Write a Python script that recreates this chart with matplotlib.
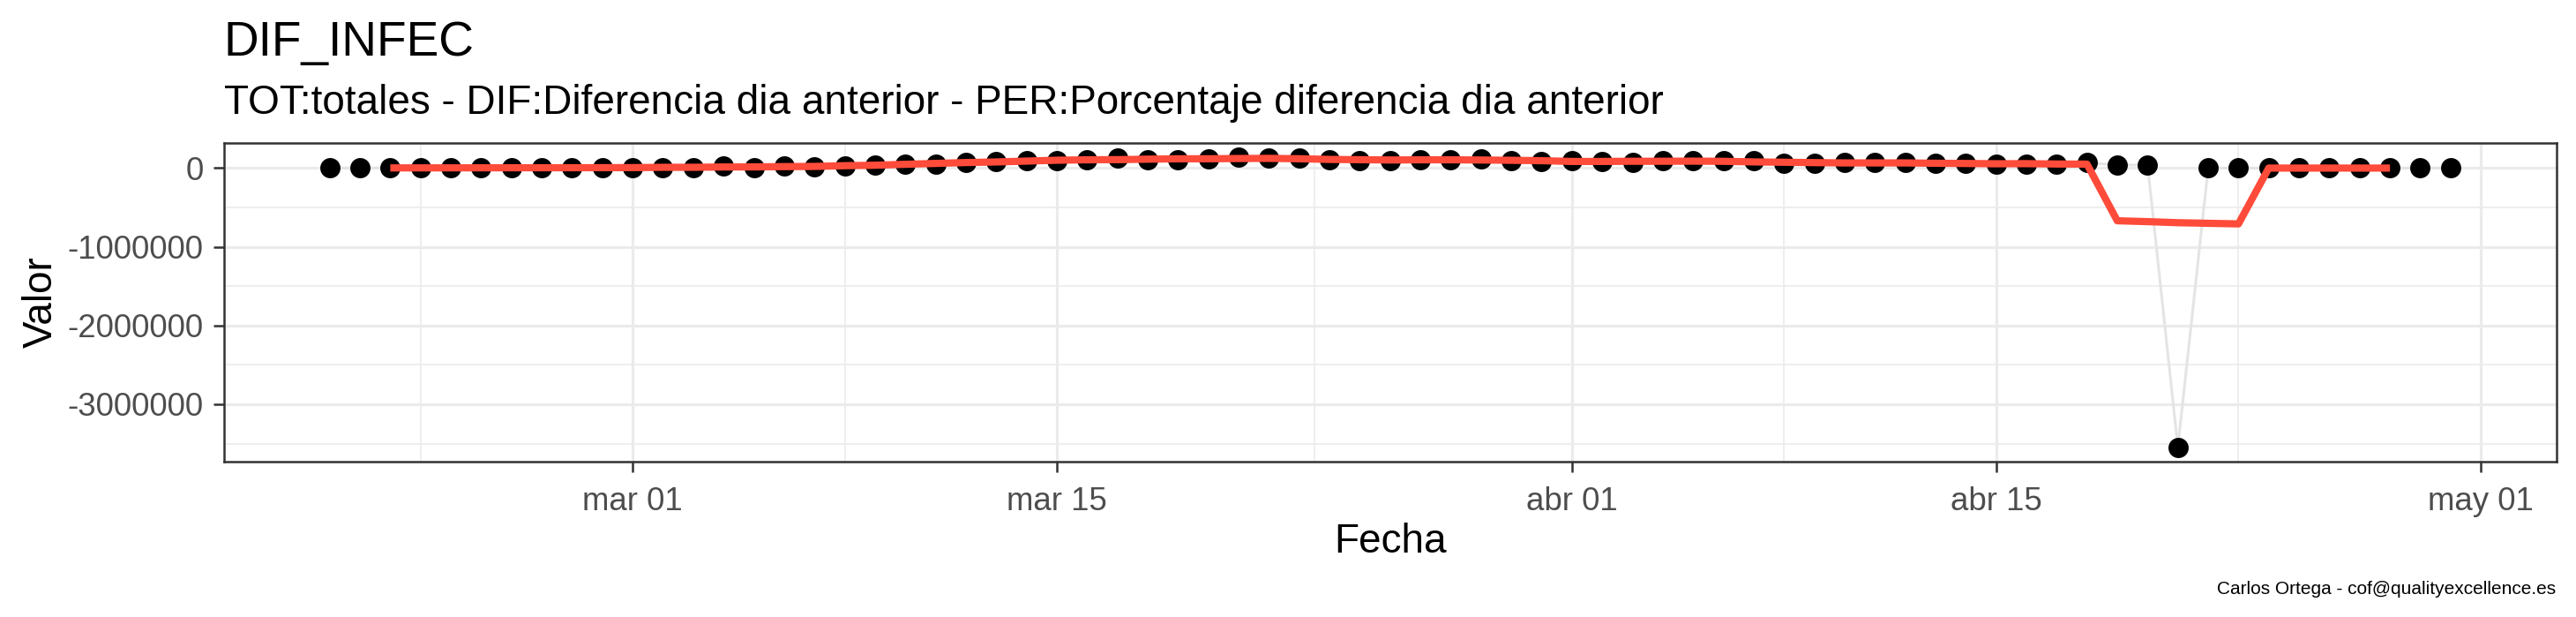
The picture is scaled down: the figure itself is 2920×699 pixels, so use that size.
import matplotlib
matplotlib.use("Agg")
import matplotlib.pyplot as plt
import numpy as np
import pandas as pd

plt.rcParams['font.family'] = ['Liberation Sans', 'DejaVu Sans']

# ---------------- data ----------------
start_date = "2020-02-20"
end_date = "2020-04-30"
valores = [
    # Feb 20 - Feb 29
    0, 0, 500, 1000, 1000, 2000, 2000, 3000, 3000, 3000,
    # Mar 01 - Mar 31
    4000, 5000, 7000, 22000, 4000, 24000, 10000, 26000, 33000, 52000,
    52000, 70000, 81000, 89000, 89000, 107000, 125000, 107000, 100000, 118000,
    133000, 125000, 125000, 107000, 96000, 89000, 107000, 107000, 118000, 96000,
    77000,
    # Apr 01 - Apr 30
    89000, 81000, 70000, 96000, 89000, 89000, 89000, 59000, 59000, 66000,
    66000, 70000, 59000, 59000, 44000, 52000, 52000, 66000, 37000, 37000,
    -3545000, -2000, -2000, -1000, -2000, -1000, -2000, -1000, -2000, -1000,
]
major_dates = ["2020-03-01", "2020-03-15", "2020-04-01", "2020-04-15", "2020-05-01"]
major_labels = ["mar 01", "mar 15", "abr 01", "abr 15", "may 01"]
minor_dates = ["2020-02-23 00:00", "2020-03-08 00:00", "2020-03-23 12:00",
               "2020-04-08 00:00", "2020-04-23 00:00"]
y_ticks = [0, -1000000, -2000000, -3000000]
y_tick_labels = ["0", "-1000000", "-2000000", "-3000000"]
y_minor = [-500000, -1500000, -2500000, -3500000]

titulo = "DIF_INFEC"
subtitulo = "TOT:totales - DIF:Diferencia dia anterior - PER:Porcentaje diferencia dia anterior"
caption = "Carlos Ortega - cof@qualityexcellence.es"

fechas = pd.date_range(start_date, end_date, freq="D")
serie = pd.Series(valores, index=fechas, dtype=float)
media = serie.rolling(5, center=True).mean()

# ---------------- figure ----------------
W, H = 2920, 699
fig = plt.figure(figsize=(W / 100, H / 100), dpi=100)
L, R, T, B = 253.5, 2898, 162, 523
ax = fig.add_axes([L / W, 1 - B / H, (R - L) / W, (B - T) / H])

grid_col = "#EBEBEB"
ax.set_axisbelow(True)

ax.plot(fechas, serie.values, color="#E4E4E4", lw=2.2, zorder=2)
ax.scatter(fechas, serie.values, s=16.5 ** 2, color="black", zorder=3, linewidths=0)
ax.plot(fechas, media.values, color="#FF4B3A", lw=5.9, zorder=4, solid_capstyle="butt")

ax.margins(x=0.05, y=0.05)

ax.set_xticks(pd.to_datetime(major_dates, format="%Y-%m-%d"))
ax.set_xticklabels(major_labels)
ax.set_xticks(pd.to_datetime(minor_dates, format="%Y-%m-%d %H:%M"), minor=True)
ax.set_yticks(y_ticks)
ax.set_yticklabels(y_tick_labels)
ax.set_yticks(y_minor, minor=True)

ax.grid(which="major", color=grid_col, lw=2.3, zorder=0)
ax.grid(which="minor", color=grid_col, lw=1.2, zorder=0)

for s in ax.spines.values():
    s.set_color("#333333")
    s.set_linewidth(1.8)

ax.tick_params(which="major", length=8.3, width=1.8, color="#333333",
               labelsize=26.4, labelcolor="#4D4D4D")
ax.tick_params(axis="y", which="major", pad=8.0)
ax.tick_params(axis="x", which="major", pad=11.5)
ax.tick_params(which="minor", length=0)

fig.text(254 / W, 1 - 63 / H, titulo, fontsize=39.6, ha="left", va="baseline")
fig.text(254 / W, 1 - 129 / H, subtitulo, fontsize=33.0, ha="left", va="baseline")
fig.text(2897 / W, 1 - 673 / H, caption, fontsize=15.0, ha="right", va="baseline")
fig.text(58.7 / W, 1 - ((T + B) / 2) / H, "Valor", fontsize=33.0, rotation=90,
         rotation_mode="anchor", ha="center", va="baseline")
fig.text(((L + R) / 2) / W, 1 - 626 / H, "Fecha", fontsize=33.0, ha="center", va="baseline")

fig.savefig("out.png", dpi=100)
